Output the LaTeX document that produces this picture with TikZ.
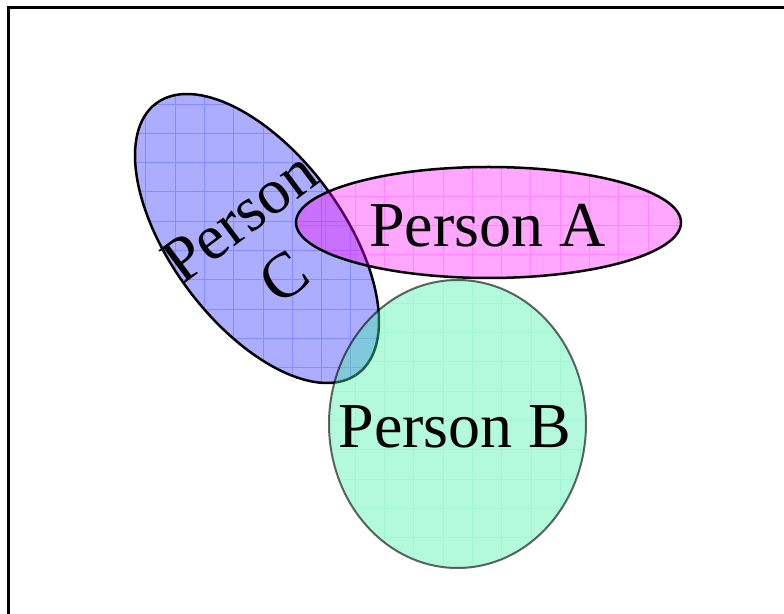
\documentclass[tikz,border=0pt]{standalone}
\usepackage{fontspec}
\setmainfont{Liberation Serif}
\definecolor{Bgreen}{RGB}{67,242,167}
\definecolor{Amag}{RGB}{255,0,255}
\definecolor{Cblue}{RGB}{0,0,255}
\begin{document}
\begin{tikzpicture}[x=1pt,y=1pt,
  bord/.style={line width=2.5pt},
  gridline/.style={line width=0.8pt, step=29.3pt},
  lbl/.style={font=\fontsize{64}{75}\selectfont, inner sep=0pt}]
\useasboundingbox (0,0) rectangle (784,613);
\clip (0,0) rectangle (784,613);
\fill[white] (0,0) rectangle (784,613);
\draw[line width=2.7pt] (8.7,-20) -- (8.7,605.5) -- (800,605.5);

% Person C ellipse
\fill[Cblue, opacity=.32, rotate around={-53.25:(257,374.5)}] (257,374.5) ellipse (168.6 and 85.6);
\begin{scope}
  \clip[rotate around={-53.25:(257,374.5)}] (257,374.5) ellipse (168.6 and 85.6);
  \draw[gridline, Cblue, opacity=.2, shift={(175,509)}] (-200,-500) grid (300,200);
\end{scope}
\draw[bord, rotate around={-53.25:(257,374.5)}] (257,374.5) ellipse (168.6 and 85.6);

% Person A ellipse
\fill[Amag, opacity=.35] (488.5,390.5) ellipse (192.5 and 55.5);
\begin{scope}
  \clip (488.5,390.5) ellipse (192.5 and 55.5);
  \draw[gridline, Amag, opacity=.2, shift={(355,417)}] (-100,-100) grid (400,100);
\end{scope}
\draw[bord] (488.5,390.5) ellipse (192.5 and 55.5);

% Person B ellipse
\fill[Bgreen, opacity=.4] (457.5,189) ellipse (128.5 and 144);
\begin{scope}
  \clip (457.5,189) ellipse (128.5 and 144);
  \draw[gridline, Bgreen, opacity=.15, shift={(443,134)}] (-150,-150) grid (200,250);
\end{scope}
\draw[line width=2pt, black, opacity=.6] (457.5,189) ellipse (128.5 and 144);

% labels
\node[lbl, anchor=base] (tA) at (487.5,366) {Person A};
\node[lbl, anchor=base] (tB) at (455,165) {Person B};
\node[lbl, align=center, rotate=36.75] (tC) at (262,366) {Person\\C};
\end{tikzpicture}
\end{document}
